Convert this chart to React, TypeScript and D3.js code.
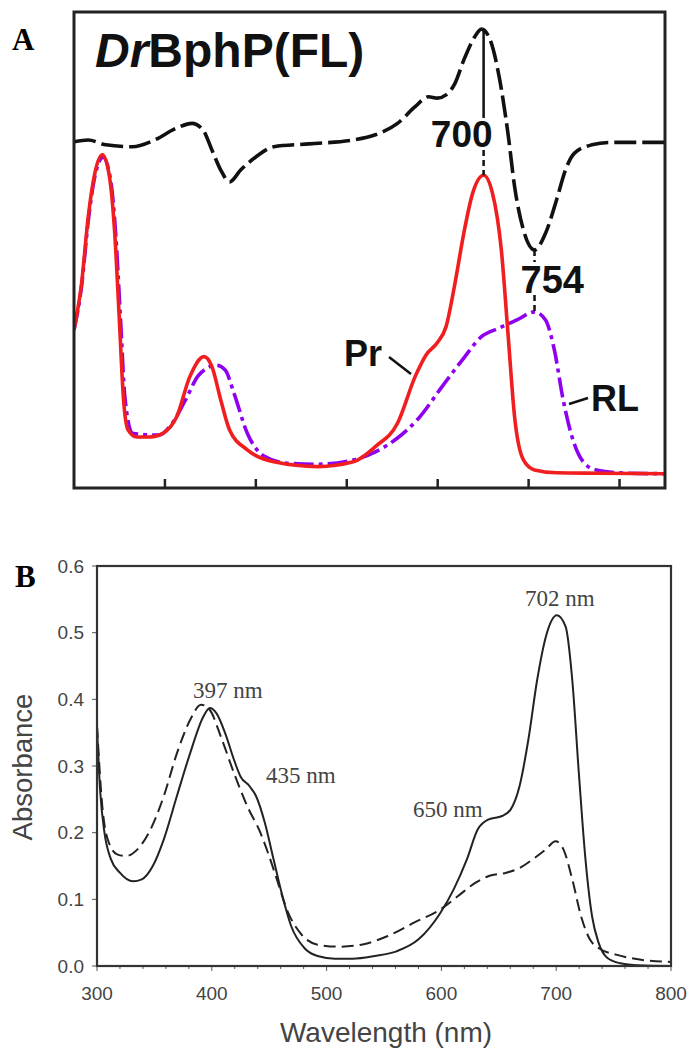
import React from "react";
import * as d3 from "d3";

// ---------- Panel A data (arbitrary units, normalised) ----------
const aWavelengthDomain = [250, 900];
const aTicks = [350, 450, 550, 650, 750, 850];

const prWl = [250, 258.4, 265.6, 273, 281.2, 289, 294.8, 299.7, 304.5, 309.4, 319, 333.7, 348, 362.8, 377.4, 393, 401.7, 411.4, 421.1, 440.6, 469.8, 518.3, 557.2, 581.5, 605.8, 625.2, 637.4, 649.5, 659.2, 669, 678.7, 688.4, 700.5, 710.3, 720, 727.3, 734.6, 744.3, 756.4, 780.7, 824.4, 900];
const prVal = [0.332, 0.431, 0.569, 0.662, 0.700, 0.654, 0.535, 0.36, 0.185, 0.122, 0.107, 0.107, 0.115, 0.149, 0.234, 0.276, 0.255, 0.185, 0.122, 0.080, 0.055, 0.045, 0.055, 0.087, 0.136, 0.234, 0.28, 0.305, 0.339, 0.430, 0.535, 0.619, 0.657, 0.619, 0.50, 0.325, 0.149, 0.059, 0.038, 0.032, 0.031, 0.030];

const rlWl = [250, 258.4, 265.6, 273, 282, 290, 296, 301, 306, 314.2, 343.4, 358, 372.6, 387.1, 406.6, 416.3, 426, 440.6, 460, 484.3, 518.3, 557.2, 581.5, 605.8, 630.1, 654.4, 678.7, 698.1, 717.6, 737, 756.5, 768.6, 778.3, 788, 797.8, 810, 824.4, 858.4, 900];
const rlVal = [0.332, 0.425, 0.560, 0.655, 0.695, 0.650, 0.530, 0.36, 0.19, 0.115, 0.111, 0.136, 0.185, 0.237, 0.258, 0.248, 0.199, 0.115, 0.066, 0.052, 0.050, 0.059, 0.076, 0.105, 0.149, 0.212, 0.273, 0.318, 0.336, 0.353, 0.370, 0.353, 0.29, 0.185, 0.107, 0.055, 0.038, 0.031, 0.030];

const diffWl = [250, 265.6, 285, 314.2, 338.5, 362.8, 379.8, 392, 401.7, 411.4, 421.1, 433.3, 450.3, 469.8, 508.6, 557.2, 581.5, 605.8, 625.2, 639.8, 649.5, 659.2, 669, 678.7, 690.8, 698.1, 707.8, 717.6, 727.3, 734.6, 744.3, 756.5, 768.6, 780.7, 790.5, 800.2, 819.6, 839, 900];
const diffVal = [0.7275, 0.731, 0.721, 0.717, 0.731, 0.756, 0.766, 0.752, 0.710, 0.668, 0.643, 0.668, 0.696, 0.717, 0.723, 0.731, 0.742, 0.766, 0.801, 0.822, 0.819, 0.826, 0.850, 0.899, 0.948, 0.964, 0.941, 0.864, 0.745, 0.633, 0.542, 0.50, 0.535, 0.605, 0.668, 0.703, 0.721, 0.726, 0.726];

// ---------- Panel B data (absorbance) ----------
const bTicksX = [300, 400, 500, 600, 700, 800];
const bTicksY = [0.0, 0.1, 0.2, 0.3, 0.4, 0.5, 0.6];

const solidWl = [300, 302.7, 306.5, 312.2, 319.9, 331.4, 339, 348.6, 358.2, 369.6, 381.1, 392.6, 398.3, 404.1, 411.7, 419.4, 425.1, 432.8, 438.5, 446.2, 453.8, 461.5, 469.1, 480.6, 492.1, 507.4, 522.7, 541.8, 560.9, 580.1, 599.2, 610.7, 622.2, 631.7, 641.3, 652.8, 660.4, 668.1, 675.7, 683.4, 691, 700.6, 708.2, 714, 719.7, 725.5, 731.2, 736.9, 744.6, 756.1, 771.4, 800];
const solidAbs = [0.359, 0.264, 0.20, 0.16, 0.14, 0.127, 0.13, 0.15, 0.19, 0.255, 0.319, 0.374, 0.387, 0.379, 0.349, 0.309, 0.284, 0.27, 0.255, 0.215, 0.16, 0.105, 0.06, 0.027, 0.015, 0.011, 0.011, 0.015, 0.022, 0.04, 0.08, 0.115, 0.16, 0.205, 0.22, 0.225, 0.235, 0.27, 0.339, 0.429, 0.494, 0.526, 0.509, 0.429, 0.29, 0.16, 0.075, 0.035, 0.012, 0.004, 0.001, 0.0];

const dashWl = [300, 304.6, 310.3, 318, 325.6, 335.2, 346.7, 358.2, 369.6, 381.1, 390.7, 398.3, 407.9, 419.4, 430.8, 442.3, 449.9, 457.6, 465.3, 476.8, 492.1, 511.2, 530.3, 553.3, 576.2, 599.2, 614.5, 629.8, 641.3, 656.6, 668.1, 679.6, 691, 699.5, 706.3, 714, 721.6, 729.3, 736.9, 752.2, 771.4, 800];
const dashAbs = [0.36, 0.24, 0.185, 0.167, 0.165, 0.175, 0.205, 0.255, 0.319, 0.369, 0.392, 0.384, 0.344, 0.289, 0.24, 0.2, 0.165, 0.125, 0.085, 0.05, 0.032, 0.029, 0.032, 0.045, 0.065, 0.085, 0.105, 0.125, 0.135, 0.14, 0.147, 0.16, 0.175, 0.187, 0.175, 0.13, 0.075, 0.04, 0.027, 0.017, 0.01, 0.006];

const bAnnotations = [
  { text: "702 nm", x: 525, y: 606 },
  { text: "397 nm", x: 193, y: 698 },
  { text: "435 nm", x: 266, y: 783 },
  { text: "650 nm", x: 413, y: 817 },
];

const SANS = "'Liberation Sans', Arial, Helvetica, sans-serif";
const SERIF = "'Liberation Serif', 'Times New Roman', serif";

type P = [number, number];
const zip = (a: number[], b: number[]): P[] => a.map((v, i) => [v, b[i]]);

export default function App() {
  // Panel A geometry
  const aL = 74, aR = 665, aT = 12, aB = 488;
  const ax = d3.scaleLinear().domain(aWavelengthDomain).range([aL, aR]);
  const ay = d3.scaleLinear().domain([0, 1]).range([aB, aT]);
  const aLine = d3.line<P>().x(d => ax(d[0])).y(d => ay(d[1])).curve(d3.curveMonotoneX);

  const pr = zip(prWl, prVal);
  const rl = zip(rlWl, rlVal);
  const diff = zip(diffWl, diffVal);

  const prPeak = pr.filter(d => d[0] > 600).reduce((m, d) => (d[1] > m[1] ? d : m));
  const diffPeak = diff.reduce((m, d) => (d[1] > m[1] ? d : m));
  const diffMin = diff.filter(d => d[0] > 700).reduce((m, d) => (d[1] < m[1] ? d : m));
  const rlPeak = rl.filter(d => d[0] > 600).reduce((m, d) => (d[1] > m[1] ? d : m));

  // Panel B geometry
  const bL = 97, bR = 671, bT = 566, bB = 966;
  const bx = d3.scaleLinear().domain([300, 800]).range([bL, bR]);
  const by = d3.scaleLinear().domain([0, 0.6]).range([bB, bT]);
  const bLine = d3.line<P>().x(d => bx(d[0])).y(d => by(d[1])).curve(d3.curveMonotoneX);
  const minorX = d3.range(300, 801, 20);

  const x700 = ax(prPeak[0]);
  const x754 = ax(rlPeak[0]);

  return (
    <svg width={691} height={1055} style={{ position: "absolute", left: 0, top: 0, background: "#fff" }}>
      <defs>
        <clipPath id="clipA"><rect x={aL} y={aT} width={aR - aL} height={aB - aT} /></clipPath>
        <clipPath id="clipB"><rect x={bL} y={bT} width={bR - bL} height={bB - bT} /></clipPath>
      </defs>

      {/* ---------------- Panel A ---------------- */}
      <text x={12} y={50} fontFamily={SERIF} fontWeight="bold" fontSize={31} fill="#000">A</text>
      <g clipPath="url(#clipA)">
        <path d={aLine(rl) || ""} fill="none" stroke="#8f00f0" strokeWidth={3.6} strokeDasharray="20 5 4 5" />
        <path d={aLine(pr) || ""} fill="none" stroke="#f01e1e" strokeWidth={3.6} />
        <path d={aLine(diff) || ""} fill="none" stroke="#111" strokeWidth={3.6} strokeDasharray="22 6" />
      </g>
      {/* annotation lines */}
      <line x1={x700} x2={x700} y1={ay(diffPeak[1])} y2={118} stroke="#111" strokeWidth={2.5} />
      <line x1={x700} x2={x700} y1={150} y2={ay(prPeak[1])} stroke="#111" strokeWidth={2.5} strokeDasharray="6 4" />
      <line x1={x754} x2={x754} y1={ay(diffMin[1])} y2={262} stroke="#111" strokeWidth={2.5} strokeDasharray="6 4" />
      <line x1={x754} x2={x754} y1={295} y2={ay(rlPeak[1])} stroke="#111" strokeWidth={2.5} strokeDasharray="6 4" />
      <text x={x700 + 9} y={147} textAnchor="end" fontFamily={SANS} fontWeight="bold" fontSize={37} fill="#111">700</text>
      <text x={x754 - 14} y={293} fontFamily={SANS} fontWeight="bold" fontSize={38} fill="#111">754</text>
      <text x={344} y={366} fontFamily={SANS} fontWeight="bold" fontSize={36} fill="#111">Pr</text>
      <line x1={389} y1={357} x2={411} y2={374} stroke="#111" strokeWidth={2.5} />
      <text x={591} y={411} fontFamily={SANS} fontWeight="bold" fontSize={36} fill="#111">RL</text>
      <line x1={569} y1={404} x2={588} y2={398} stroke="#111" strokeWidth={2.5} />
      <text x={95} y={67} fontFamily={SANS} fontWeight="bold" fontSize={48} fill="#111">
        <tspan fontStyle="italic">Dr</tspan>BphP(FL)
      </text>
      {/* frame and ticks */}
      {aTicks.map(t => (
        <line key={t} x1={ax(t)} x2={ax(t)} y1={aB} y2={aB - 9} stroke="#222" strokeWidth={2.5} />
      ))}
      <rect x={aL} y={aT} width={aR - aL} height={aB - aT} fill="none" stroke="#222" strokeWidth={3} />

      {/* ---------------- Panel B ---------------- */}
      <text x={15} y={587} fontFamily={SERIF} fontWeight="bold" fontSize={31} fill="#000">B</text>
      <g clipPath="url(#clipB)">
        <path d={bLine(zip(dashWl, dashAbs)) || ""} fill="none" stroke="#222" strokeWidth={2} strokeDasharray="12 6" />
        <path d={bLine(zip(solidWl, solidAbs)) || ""} fill="none" stroke="#222" strokeWidth={2} />
      </g>
      {minorX.map(t => (
        <line key={"m" + t} x1={bx(t)} x2={bx(t)} y1={bB} y2={bB + (t % 100 === 0 ? 5 : 3)} stroke="#555" strokeWidth={1} />
      ))}
      {bTicksY.map(t => (
        <g key={"y" + t}>
          <line x1={bL - 5} x2={bL} y1={by(t)} y2={by(t)} stroke="#555" strokeWidth={1} />
          <text x={84} y={by(t)} dy="0.35em" textAnchor="end" fontFamily={SANS} fontSize={19} fill="#444">{t.toFixed(1)}</text>
        </g>
      ))}
      {bTicksX.map(t => (
        <text key={"x" + t} x={bx(t)} y={1000} textAnchor="middle" fontFamily={SANS} fontSize={19} fill="#444">{t}</text>
      ))}
      <rect x={bL} y={bT} width={bR - bL} height={bB - bT} fill="none" stroke="#333" strokeWidth={2.2} />
      {bAnnotations.map(a => (
        <text key={a.text} x={a.x} y={a.y} fontFamily={SERIF} fontSize={23} fill="#444">{a.text}</text>
      ))}
      <text transform="translate(32,767) rotate(-90)" textAnchor="middle" fontFamily={SANS} fontSize={27.5} fill="#444">Absorbance</text>
      <text x={386} y={1042} textAnchor="middle" fontFamily={SANS} fontSize={28} fill="#444">Wavelength (nm)</text>
    </svg>
  );
}
